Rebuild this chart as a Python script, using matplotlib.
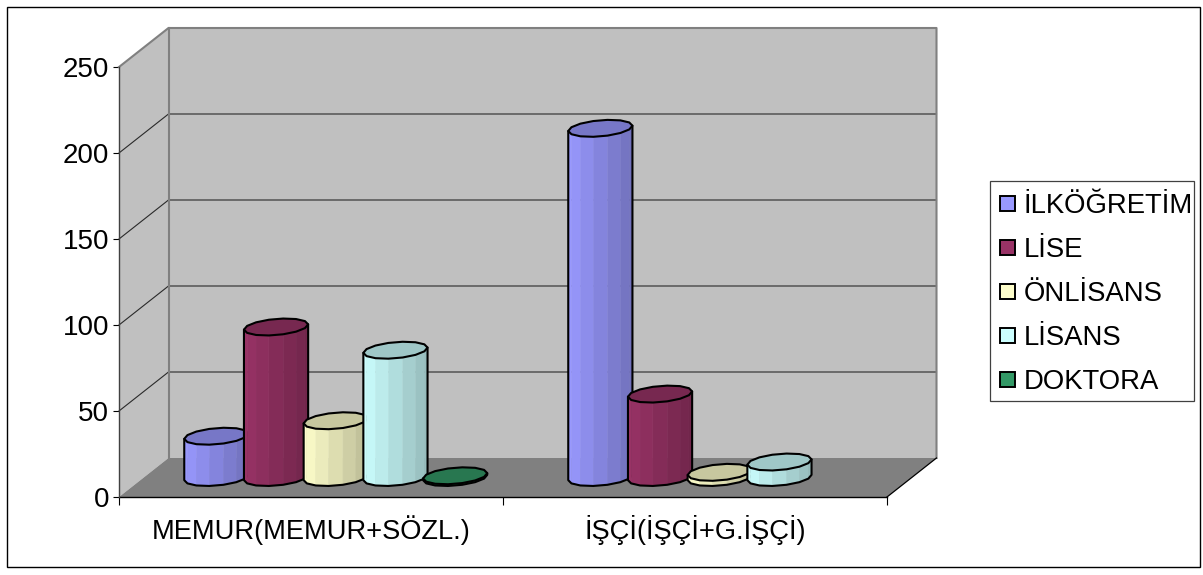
import numpy as np
import matplotlib
matplotlib.use('Agg')
import matplotlib.pyplot as plt
from matplotlib.patches import Polygon, Rectangle

plt.rcParams['font.family'] = ['Liberation Sans', 'DejaVu Sans']

groups = ['MEMUR(MEMUR+SÖZL.)', 'İŞÇİ(İŞÇİ+G.İŞÇİ)']
series_names = ['İLKÖĞRETİM', 'LİSE', 'ÖNLİSANS', 'LİSANS', 'DOKTORA']
memur_values = [24, 87.5, 33, 74, 1]
isci_values = [203, 48.5, 3, 9, 0]
series_colors = ['#9999FF', '#993366', '#FFFFCC', '#CCFFFF', '#339966']
y_ticks = [0, 50, 100, 150, 200, 250]

W, H = 1203, 575
LEFT, RIGHT, TOP, BOTTOM = 119, 887, 67, 497
PX_X = (RIGHT - LEFT) / 2
PX_Y = (BOTTOM - TOP) / 250
# depth of the fake 3D box, in data units
DEPTH_X = 49.5 / PX_X
DEPTH_Y = 39 / PX_Y
BAR_STEP = 59.7 / PX_X
BAR_A = 30.5 / PX_X
BAR_BX = 10 / PX_X
BAR_BY = 8.5 / PX_Y
N_SIDES = 14


def shade(color, factor):
    rgb = np.array(matplotlib.colors.to_rgb(color))
    return tuple(rgb * factor)


def draw_box(ax):
    """Боковая и задняя стенки, пол и линии сетки."""
    ax.add_patch(Polygon([(0, 0), (DEPTH_X, DEPTH_Y), (DEPTH_X, 250 + DEPTH_Y), (0, 250)],
                         fc='#C0C0C0', ec='none', clip_on=False, zorder=1))
    ax.add_patch(Polygon([(DEPTH_X, DEPTH_Y), (2 + DEPTH_X, DEPTH_Y),
                          (2 + DEPTH_X, 250 + DEPTH_Y), (DEPTH_X, 250 + DEPTH_Y)],
                         fc='#C0C0C0', ec='none', clip_on=False, zorder=1))
    for tick in y_ticks[1:-1]:
        ax.plot([0, DEPTH_X, 2 + DEPTH_X], [tick, tick + DEPTH_Y, tick + DEPTH_Y],
                color='#2a2a2a', lw=0.8, clip_on=False, zorder=2)
    ax.plot([0, DEPTH_X, 2 + DEPTH_X, 2 + DEPTH_X], [250, 250 + DEPTH_Y, 250 + DEPTH_Y, DEPTH_Y],
            color='#808080', lw=1.5, clip_on=False, zorder=2)
    ax.plot([DEPTH_X, DEPTH_X], [DEPTH_Y, 250 + DEPTH_Y],
            color='#808080', lw=1.5, clip_on=False, zorder=2)
    ax.add_patch(Polygon([(0, 0), (DEPTH_X, DEPTH_Y), (2 + DEPTH_X, DEPTH_Y), (2, 0)],
                         fc='#808080', ec='none', clip_on=False, zorder=3))
    ax.plot([2, 2 + DEPTH_X], [0, DEPTH_Y], color='black', lw=0.9, clip_on=False, zorder=3)
    ax.plot([0, 2], [0, 0], color='black', lw=1.0, clip_on=False, zorder=4)
    ax.plot([0, 0], [0, 250], color='#404040', lw=1.0, clip_on=False, zorder=4)


def draw_cylinder(ax, center_x, value, color, zorder):
    """Рисует цилиндр как многогранник с гранями разной яркости."""
    center_y = DEPTH_Y / 2
    start = np.arctan2(BAR_BX, BAR_A)
    angles = start - np.arange(N_SIDES) * 2 * np.pi / N_SIDES
    xs = center_x + BAR_A * np.cos(angles) + BAR_BX * np.sin(angles)
    ys = BAR_BY * np.sin(angles)
    half = N_SIDES // 2

    # front facets, right to left
    for i in range(half):
        frac = (xs[i] + xs[i + 1]) / 2
        frac = (frac - xs[half]) / (xs[0] - xs[half])
        factor = 1.0 - 0.27 * frac
        face = [(xs[i], center_y + ys[i]), (xs[i + 1], center_y + ys[i + 1]),
                (xs[i + 1], center_y + ys[i + 1] + value), (xs[i], center_y + ys[i] + value)]
        ax.add_patch(Polygon(face, fc=shade(color, factor), ec=shade(color, factor), lw=0.3,
                             clip_on=False, zorder=zorder))
    # outline of the body
    front = [(xs[i], center_y + ys[i]) for i in range(half + 1)]
    outline = front + [(xs[half], center_y + ys[half] + value), (xs[0], center_y + ys[0] + value)]
    ax.add_patch(Polygon(outline, fc='none', ec='black', lw=1.5, joinstyle='round',
                         clip_on=False, zorder=zorder))
    cap = list(zip(xs, center_y + ys + value))
    ax.add_patch(Polygon(cap, fc=shade(color, 0.78), ec='black', lw=1.5, joinstyle='round',
                         clip_on=False, zorder=zorder))


fig = plt.figure(figsize=(W / 100, H / 100), dpi=100)
ax = fig.add_axes([LEFT / W, 1 - BOTTOM / H, (RIGHT - LEFT) / W, (BOTTOM - TOP) / H])
ax.set_xlim(0, 2)
ax.set_ylim(0, 250)
ax.patch.set_visible(False)
for spine in ax.spines.values():
    spine.set_visible(False)

ax.set_yticks(y_ticks)
ax.tick_params(axis='y', labelsize=20, length=4, width=0.8, pad=3)
ax.set_xticks([0, 1, 2])
ax.set_xticklabels([])
ax.set_xticks([0.5, 1.5], minor=True)
ax.set_xticklabels(groups, minor=True)
ax.tick_params(axis='x', which='major', length=6, width=0.8)
ax.tick_params(axis='x', which='minor', length=0, labelsize=19.6, pad=13)
for label in ax.get_yticklabels():
    label.set_y(label.get_position()[1])

draw_box(ax)

z = 10
for g, values in enumerate([memur_values, isci_values]):
    for i, value in enumerate(values):
        if g == 1 and series_names[i] == 'DOKTORA':
            continue
        cx = g + 0.5 + DEPTH_X / 2 + (i - 2) * BAR_STEP
        draw_cylinder(ax, cx, value, series_colors[i], z)
        z += 1

# outer chart frame
fig.add_artist(Rectangle((6.5 / W, 1 - 566.5 / H), 1193 / W, 560 / H, fc='none', ec='black',
                         lw=1.0, transform=fig.transFigure))

# legend frame and entries
fig.add_artist(Rectangle((989.5 / W, 1 - 401 / H), 204 / W, 220 / H, fc='white', ec='#404040',
                         lw=0.9, transform=fig.transFigure))
legend_y = [203, 247, 291, 335, 379]
for name, color, y_px in zip(series_names, series_colors, legend_y):
    fig.add_artist(Rectangle((999.5 / W, 1 - (y_px + 8) / H), 15.5 / W, 15.5 / H, fc=color, ec='black',
                             lw=1.4, transform=fig.transFigure))
    fig.text(1024 / W, 1 - y_px / H, name, fontsize=19.8, va='center_baseline', ha='left')

fig.savefig('out.png', dpi=100)
